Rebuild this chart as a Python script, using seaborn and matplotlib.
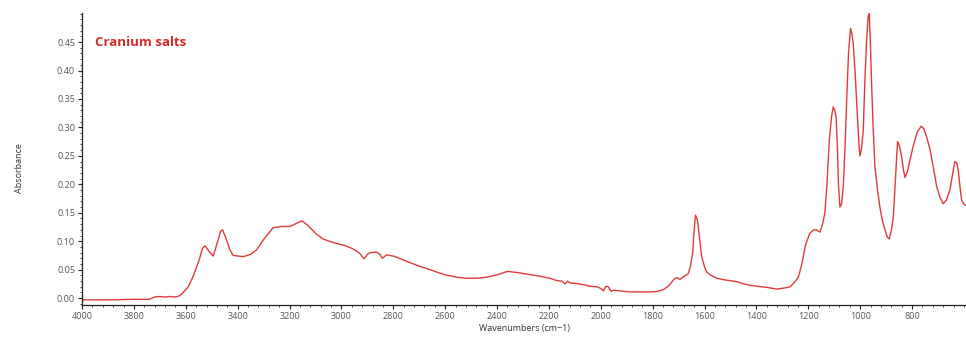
"""IR absorbance spectrum of cranium salts."""

import matplotlib

matplotlib.use("Agg")
import matplotlib.pyplot as plt
import numpy as np
import pandas as pd
import seaborn as sns
from matplotlib.ticker import AutoMinorLocator

# ---- data ------------------------------------------------------------------

wavenumber = [
    4000, 3900, 3800, 3740, 3720, 3700, 3680, 3660, 3640, 3625, 3610, 3590,
    3570, 3550, 3535, 3526, 3510, 3494, 3480, 3465, 3458, 3445, 3430, 3417,
    3378, 3350, 3327, 3300, 3263, 3230, 3198, 3175, 3153, 3135, 3121, 3095,
    3070, 3040, 3018, 2990, 2967, 2945, 2928, 2912, 2900, 2890, 2864, 2850,
    2842, 2826, 2800, 2787, 2750, 2710, 2670, 2633, 2600, 2556, 2520, 2478,
    2440, 2401, 2360, 2320, 2280, 2240, 2196, 2170, 2150, 2138, 2128, 2119,
    2100, 2070, 2042, 2015, 2000, 1990, 1980, 1971, 1960, 1952, 1935, 1910,
    1887, 1850, 1810, 1780, 1759, 1740, 1731, 1714, 1705, 1695, 1680, 1663,
    1655, 1646, 1640, 1635, 1628, 1624, 1618, 1611, 1600, 1592, 1575, 1553,
    1520, 1476, 1440, 1399, 1360, 1322, 1290, 1270, 1255, 1238, 1225, 1210,
    1194, 1180, 1168, 1155, 1145, 1136, 1128, 1119, 1110, 1104, 1098, 1093,
    1088, 1084, 1078, 1072, 1065, 1058, 1052, 1045, 1037, 1032, 1027, 1020,
    1014, 1006, 1001, 995, 988, 982, 975, 969, 965, 960, 956, 950,
    943, 933, 924, 914, 904, 896, 888, 880, 872, 864, 856, 850,
    840, 833, 827, 818, 808, 795, 780, 765, 755, 745, 731, 718,
    705, 693, 680, 668, 654, 642, 635, 628, 622, 615, 609, 600,
    592,
]

absorbance = [
    -0.003, -0.003, -0.002, -0.002, 0.002, 0.003, 0.002, 0.003, 0.002, 0.004, 0.010, 0.020,
    0.040, 0.065, 0.088, 0.092, 0.082, 0.074, 0.095, 0.118, 0.120, 0.105, 0.085, 0.075,
    0.073, 0.077, 0.085, 0.103, 0.124, 0.126, 0.126, 0.131, 0.136, 0.130, 0.124, 0.112,
    0.104, 0.099, 0.096, 0.093, 0.089, 0.084, 0.078, 0.069, 0.077, 0.080, 0.081, 0.076,
    0.070, 0.076, 0.074, 0.072, 0.065, 0.058, 0.052, 0.046, 0.041, 0.037, 0.035, 0.035,
    0.037, 0.041, 0.047, 0.045, 0.042, 0.039, 0.035, 0.031, 0.030, 0.025, 0.030, 0.027,
    0.026, 0.024, 0.021, 0.020, 0.017, 0.013, 0.021, 0.020, 0.012, 0.014, 0.013, 0.012,
    0.011, 0.011, 0.011, 0.012, 0.015, 0.021, 0.026, 0.035, 0.036, 0.033, 0.038, 0.043,
    0.055, 0.079, 0.120, 0.146, 0.138, 0.125, 0.100, 0.073, 0.055, 0.046, 0.040, 0.035,
    0.032, 0.029, 0.024, 0.021, 0.019, 0.016, 0.018, 0.020, 0.027, 0.037, 0.060, 0.095,
    0.114, 0.120, 0.120, 0.116, 0.130, 0.150, 0.200, 0.278, 0.320, 0.336, 0.330, 0.318,
    0.270, 0.202, 0.160, 0.165, 0.196, 0.270, 0.348, 0.430, 0.474, 0.465, 0.448, 0.400,
    0.348, 0.280, 0.250, 0.262, 0.295, 0.380, 0.455, 0.495, 0.500, 0.440, 0.377, 0.300,
    0.231, 0.190, 0.160, 0.135, 0.120, 0.108, 0.104, 0.118, 0.143, 0.210, 0.275, 0.270,
    0.248, 0.225, 0.212, 0.222, 0.243, 0.268, 0.292, 0.302, 0.298, 0.285, 0.262, 0.230,
    0.196, 0.178, 0.166, 0.172, 0.190, 0.222, 0.240, 0.238, 0.225, 0.195, 0.172, 0.165,
    0.163,
]

x_ticks = [4000, 3800, 3600, 3400, 3200, 3000, 2800, 2600, 2400, 2200, 2000,
           1800, 1600, 1400, 1200, 1000, 800]
y_ticks = [0.00, 0.05, 0.10, 0.15, 0.20, 0.25, 0.30, 0.35, 0.40, 0.45]

sample_name = "Cranium salts"

# ---- plot ------------------------------------------------------------------

sns.set_style("ticks")
plt.rcParams["font.family"] = ["Open Sans", "DejaVu Sans"]

df = pd.DataFrame({"wavenumber": wavenumber, "absorbance": absorbance})

fig = plt.figure(figsize=(9.66, 3.38), dpi=100)
ax = fig.add_axes([0.0849, 0.0976, 0.9151, 0.8639])

sns.lineplot(data=df, x="wavenumber", y="absorbance", color="#e03a3a",
             lw=1.0, ax=ax)

ax.set_xlim(4000, 592)
ax.set_ylim(-0.012, 0.501)
ax.set_xticks(x_ticks)
ax.set_xticklabels([str(t) for t in x_ticks])
ax.set_yticks(y_ticks)
ax.set_yticklabels([f"{t:.2f}" for t in y_ticks])
ax.xaxis.set_minor_locator(AutoMinorLocator(5))
ax.yaxis.set_minor_locator(AutoMinorLocator(5))

ax.tick_params(which="major", length=3, width=0.8, labelsize=6.5,
               labelcolor="#555555", color="#222222", pad=2)
ax.tick_params(which="minor", length=1.5, width=0.6, color="#222222")

for side in ("top", "right"):
    ax.spines[side].set_visible(False)
for side in ("left", "bottom"):
    ax.spines[side].set_color("#222222")
    ax.spines[side].set_linewidth(0.9)

ax.set_xlabel("Wavenumbers (cm\u22121)", fontsize=6.5, color="#333333")
ax.set_ylabel("Absorbance", fontsize=6.5, color="#333333")
ax.xaxis.set_label_coords(0.5, -0.066)
ax.yaxis.set_label_coords(-0.0656, 0.469)

ax.text(0.0147, 0.90, sample_name, transform=ax.transAxes, fontsize=9.5,
        fontweight="bold", color="#d42a2a", va="center", ha="left")

fig.savefig("out.png", dpi=100)
plt.close(fig)
